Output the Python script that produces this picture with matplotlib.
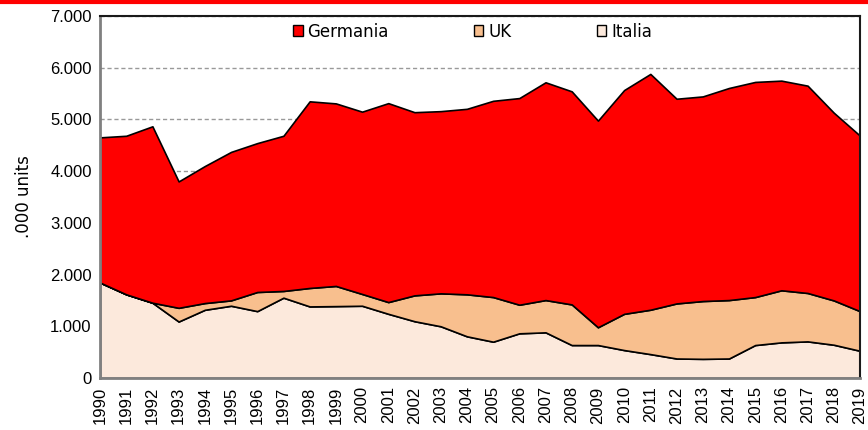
import matplotlib
matplotlib.use("Agg")
import matplotlib.pyplot as plt
from matplotlib.lines import Line2D
from matplotlib.patches import Patch

years = list(range(1990, 2020))
italia = [1846, 1618, 1456, 1092, 1319, 1397, 1293, 1553, 1384, 1390,
          1397, 1241, 1098, 1000, 806, 702, 864, 883, 637, 637,
          540, 462, 377, 370, 377, 637, 689, 708, 643, 526]
uk = [0, 0, 0, 265, 130, 104, 370, 130, 357, 390,
      228, 227, 500, 637, 812, 863, 553, 624, 786, 344,
      701, 858, 1065, 1118, 1130, 928, 1007, 936, 857, 766]
germania = [2807, 3066, 3411, 2444, 2650, 2871, 2879, 3001, 3609, 3530,
            3525, 3847, 3542, 3523, 3587, 3795, 3996, 4211, 4120, 3996,
            4327, 4560, 3958, 3957, 4101, 4160, 4054, 4009, 3630, 3393]
yticks = [0, 1000, 2000, 3000, 4000, 5000, 6000, 7000]
ytick_labels = ["0", "1.000", "2.000", "3.000", "4.000", "5.000", "6.000", "7.000"]

c_it = "#fce9dc"
c_uk = "#f8bf8e"
c_de = "#ff0000"

fig = plt.figure(figsize=(8.68, 4.30), dpi=100)
ax = fig.add_axes([100/868, 1-378/430, 760/868, 362/430])

ax.stackplot(years, italia, uk, germania, colors=[c_it, c_uk, c_de],
             edgecolor="black", linewidth=1.2, zorder=2)

ax.set_xlim(1990, 2019)
ax.set_ylim(0, 7000)
ax.set_yticks(yticks)
ax.set_yticklabels(ytick_labels, fontfamily="Liberation Sans", fontsize=12)
ax.set_xticks(years)
ax.set_xticklabels([str(y) for y in years], rotation=90,
                   fontfamily="Liberation Sans", fontsize=12)
ax.tick_params(length=0, pad=6)
ax.yaxis.grid(True, linestyle=(0, (3, 2)), color="#999999", linewidth=1, zorder=0)
ax.set_axisbelow(True)

for s in ["left", "bottom"]:
    ax.spines[s].set_color("#808080")
    ax.spines[s].set_linewidth(2)
for s in ["top", "right"]:
    ax.spines[s].set_color("#1a1a1a")
    ax.spines[s].set_linewidth(1.5)

ax.set_ylabel(".000 units", fontfamily="DejaVu Sans", fontsize=12, labelpad=12)

handles = [Patch(facecolor=c_de, edgecolor="black", linewidth=1),
           Patch(facecolor=c_uk, edgecolor="black", linewidth=1),
           Patch(facecolor=c_it, edgecolor="black", linewidth=1)]
leg = ax.legend(handles, ["Germania", "UK", "Italia"], ncol=3, frameon=False,
                loc="upper left", bbox_to_anchor=(0.254, 0.982),
                borderpad=0, borderaxespad=0,
                handlelength=0.57, handleheight=0.57, handletextpad=0.3,
                columnspacing=5.1, prop={"family": "DejaVu Sans", "size": 12})

fig.add_artist(Line2D([0, 1], [1 - 1.5/430, 1 - 1.5/430], color="#ff0000",
                      linewidth=3, transform=fig.transFigure))

fig.savefig("out.png", dpi=100)
